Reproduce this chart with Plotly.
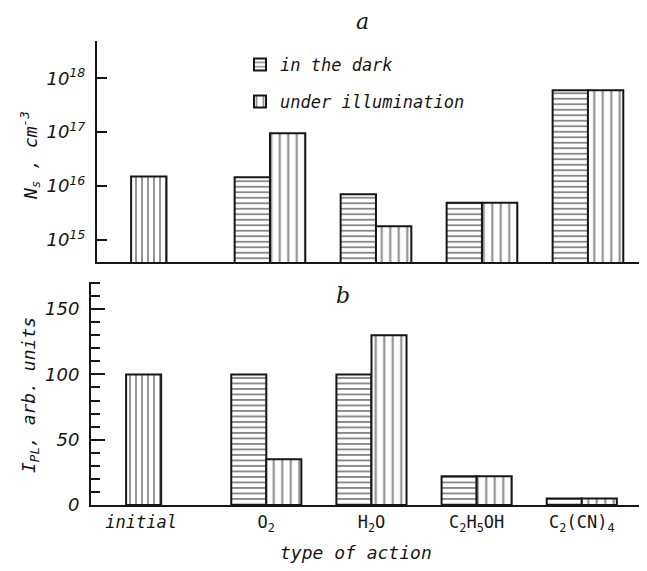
import plotly.graph_objects as go

# ---- data ----
categories = ["<i>initial</i>", "O<sub>2</sub>", "H<sub>2</sub>O",
              "C<sub>2</sub>H<sub>5</sub>OH", "C<sub>2</sub>(CN)<sub>4</sub>"]
ns_dark = [None, 1.45e16, 7.0e15, 4.9e15, 6.0e17]
ns_light = [1.5e16, 9.5e16, 1.8e15, 4.9e15, 6.0e17]
ipl_dark = [None, 100, 100, 22, 5]
ipl_light = [100, 35, 130, 22, 5]
ns_tickvals = [1e15, 1e16, 1e17, 1e18]
ns_ticktext = ["10<sup>15</sup>", "10<sup>16</sup>", "10<sup>17</sup>", "10<sup>18</sup>"]
ipl_tickvals = [0, 50, 100, 150]
ipl_ticktext = ["0", "50", "100", "150"]
series_names = ["in the dark", "under illumination"]

INK = "#161616"
W = 1 / 3
outline = dict(color=INK, width=2)

def pat(shape, size, sol):
    return dict(shape=shape, size=size, solidity=sol, fgcolor=INK, bgcolor="white", fillmode="overlay")

fig = go.Figure()

# top panel
fig.add_trace(go.Bar(x=categories[1:], y=ns_dark[1:], xaxis="x", yaxis="y",
                     offset=-W, width=W, name=series_names[0], legend="legend",
                     marker=dict(color="white", line=outline, pattern=pat("-", 5.5, 0.35))))
fig.add_trace(go.Bar(x=categories[1:], y=ns_light[1:], xaxis="x", yaxis="y",
                     offset=0, width=W, name=series_names[1], legend="legend2",
                     marker=dict(color="white", line=outline, pattern=pat("|", 8.5, 0.24))))
fig.add_trace(go.Bar(x=categories[:1], y=ns_light[:1], xaxis="x", yaxis="y",
                     offset=-0.31, width=W, showlegend=False,
                     marker=dict(color="white", line=outline, pattern=pat("|", 6, 0.3))))
# bottom panel
fig.add_trace(go.Bar(x=categories[1:], y=ipl_dark[1:], xaxis="x2", yaxis="y2",
                     offset=-W, width=W, showlegend=False,
                     marker=dict(color="white", line=outline, pattern=pat("-", 5.5, 0.35))))
fig.add_trace(go.Bar(x=categories[1:], y=ipl_light[1:], xaxis="x2", yaxis="y2",
                     offset=0, width=W, showlegend=False,
                     marker=dict(color="white", line=outline, pattern=pat("|", 8.5, 0.24))))
fig.add_trace(go.Bar(x=categories[:1], y=ipl_light[:1], xaxis="x2", yaxis="y2",
                     offset=-W, width=W, showlegend=False,
                     marker=dict(color="white", line=outline, pattern=pat("|", 6, 0.3))))

# the page body has an 8 px margin; work in reference pixels and shift
OFF = 8
FW, FH = 647 - OFF, 571 - OFF
L, T = 91 - OFF, 41 - OFF
B = FH - (505 - OFF)
R = 0
PW, PH = FW - L - R, FH - T - B

def px(xp):
    return (xp - OFF - L) / PW

def py(yp):
    return (FH - B - (yp - OFF)) / PH

tick_font = dict(family="DejaVu Sans", size=18, color=INK, style="italic")
leg_font = dict(family="DejaVu Sans Mono", size=17, color=INK, style="italic")

# category tick positions: the lone "initial" bar sits left of its slot centre
cat_tick_pos = [-0.19, 1, 2, 3, 4]

fig.update_layout(
    width=FW, height=FH,
    margin=dict(l=L, r=R, t=T, b=B, autoexpand=False),
    paper_bgcolor="white", plot_bgcolor="white",
    barmode="overlay",
    font=dict(family="DejaVu Sans Mono", color=INK, size=17),
    xaxis=dict(domain=[px(97), 1], anchor="y", type="category", automargin=False,
               categoryorder="array", categoryarray=categories,
               range=[-0.632, 4.557], showline=True, linecolor=INK, linewidth=2,
               showticklabels=False, ticks="", showgrid=False, zeroline=False),
    yaxis=dict(domain=[py(262), 1], anchor="x", type="log", automargin=False,
               range=[14.59, 18.69], showline=True, linecolor=INK, linewidth=2,
               tickvals=ns_tickvals, ticktext=ns_ticktext, ticks="inside",
               ticklen=10, tickwidth=2, tickcolor=INK, tickfont=tick_font,
               ticklabelstandoff=6, showgrid=False, zeroline=False),
    xaxis2=dict(domain=[0, 1], anchor="y2", type="category", automargin=False,
                categoryorder="array", categoryarray=categories,
                tickmode="array", tickvals=cat_tick_pos, ticktext=categories,
                range=[-0.667, 4.62], showline=True, linecolor=INK, linewidth=2,
                ticks="", showgrid=False, zeroline=False, ticklabelstandoff=1,
                tickfont=dict(family="DejaVu Sans Mono", size=17, color=INK)),
    yaxis2=dict(domain=[0, py(281.7)], anchor="x2", automargin=False,
                range=[0, 171], showline=True, linecolor=INK, linewidth=2,
                tickvals=ipl_tickvals, ticktext=ipl_ticktext, ticks="inside",
                ticklen=14, tickwidth=2, tickcolor=INK, tickfont=tick_font,
                ticklabelstandoff=6,
                minor=dict(dtick=10, ticks="inside", ticklen=9, tickwidth=2, tickcolor=INK),
                showgrid=False, zeroline=False),
    legend=dict(x=px(240), y=py(47), xanchor="left", yanchor="top",
                bgcolor="rgba(0,0,0,0)", borderwidth=0, font=leg_font),
    legend2=dict(x=px(240), y=py(84), xanchor="left", yanchor="top",
                 bgcolor="rgba(0,0,0,0)", borderwidth=0, font=leg_font),
)

ann_font = dict(family="DejaVu Sans Mono", size=18, color=INK, style="italic")
letter_font = dict(family="DejaVu Serif", size=22, color=INK, style="italic")

def note(text, x, y, font, angle=0, yanchor="middle"):
    fig.add_annotation(text=text, x=px(x), y=py(y), xref="paper", yref="paper",
                       xanchor="center", yanchor=yanchor, textangle=angle,
                       showarrow=False, font=font, borderpad=0)

note("a", 362, OFF, letter_font, yanchor="top")
note("b", 343, 295, letter_font)
note("N<sub>s</sub> , cm<sup>-3</sup>", 30, 156, ann_font, -90)
note("I<sub>PL</sub>, arb. units", 30, 395, ann_font, -90)
note("type of action", 356, 552, ann_font)

fig.write_html("out.html")
